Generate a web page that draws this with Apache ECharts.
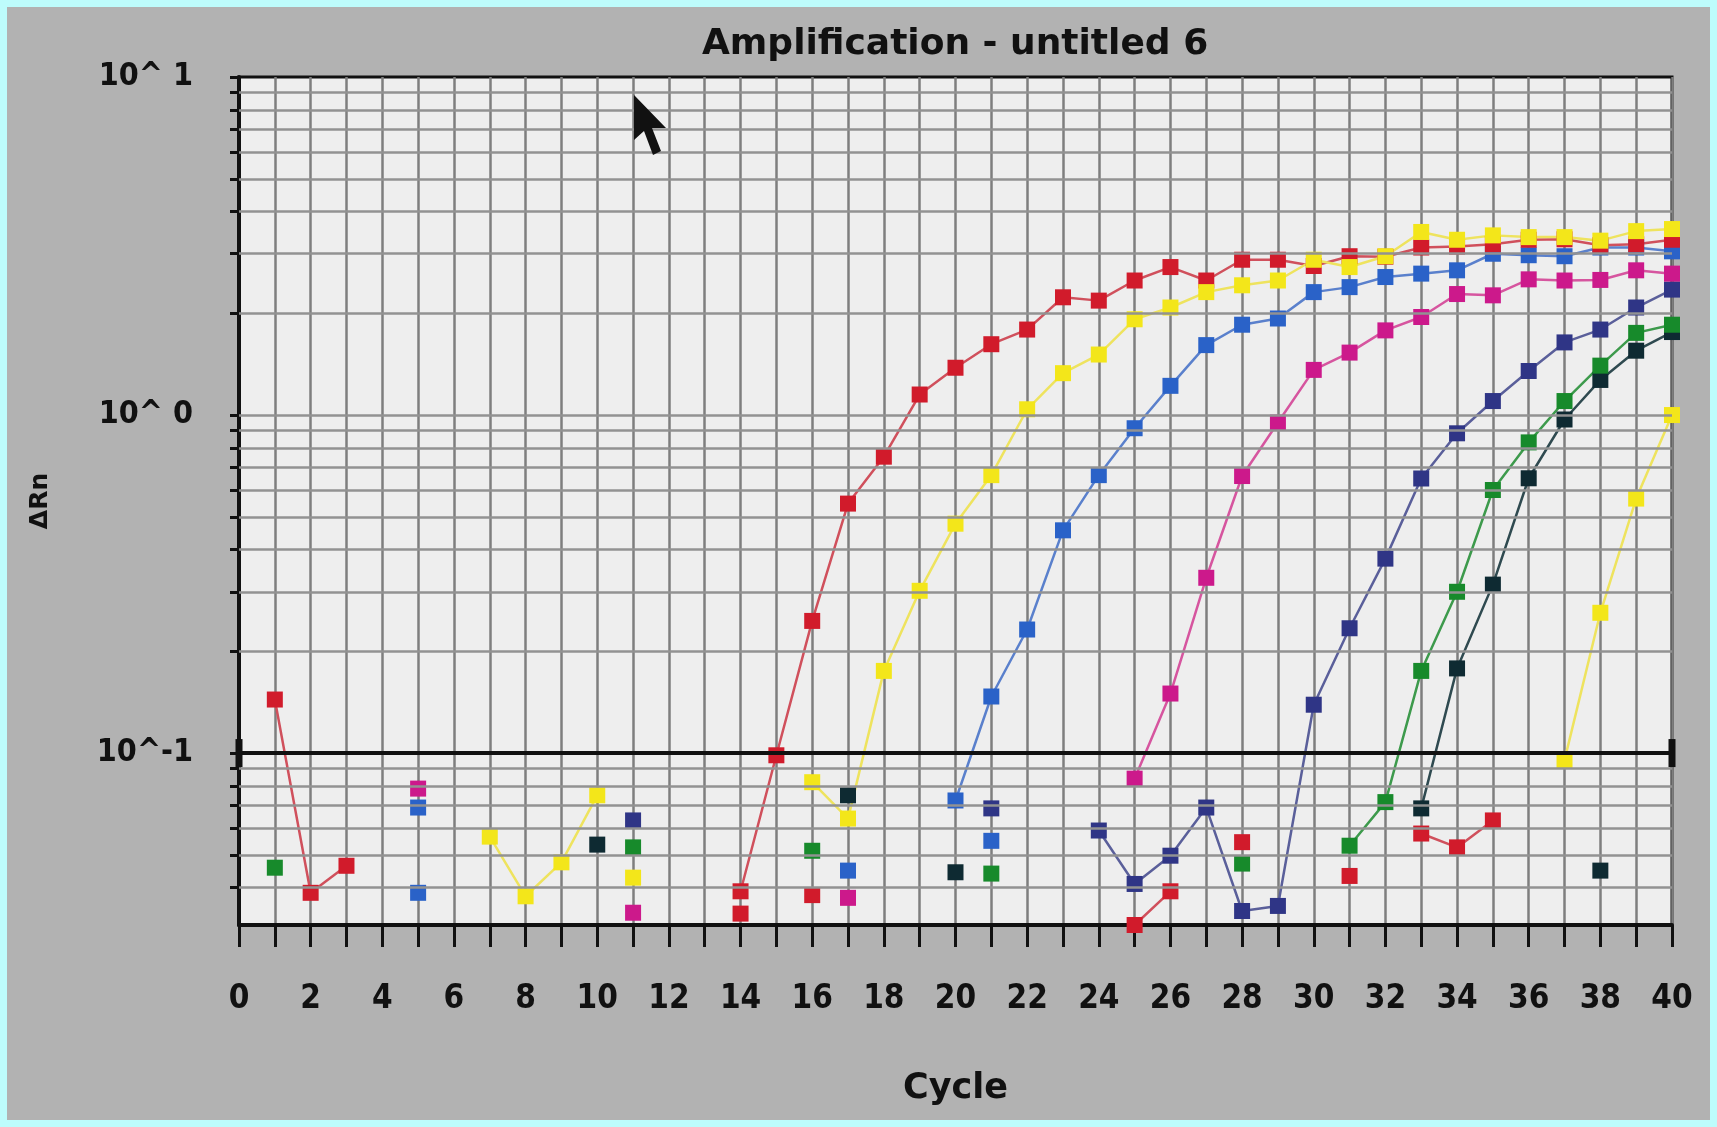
<!DOCTYPE html>
<html><head><meta charset="utf-8">
<script src="https://cdn.jsdelivr.net/npm/echarts@6/dist/echarts.min.js"></script>
<style>html,body{margin:0;padding:0;background:#b2b2b2;}#c{width:1717px;height:1127px;}</style>
</head><body><div id="c"></div>
<script>
const _ = null;
const cycles = [0,1,2,3,4,5,6,7,8,9,10,11,12,13,14,15,16,17,18,19,20,21,22,23,24,25,26,27,28,29,30,31,32,33,34,35,36,37,38,39,40];
const xTickLabels = ['0','2','4','6','8','10','12','14','16','18','20','22','24','26','28','30','32','34','36','38','40'];
const yTickValues = [0.1, 1, 10];
const yTickLabels = ['10^-1', '10^ 0', '10^ 1'];
const gridValues = [0.04,0.05,0.06,0.07,0.08,0.09,0.2,0.3,0.4,0.5,0.6,0.7,0.8,0.9,1,2,3,4,5,6,7,8,9];
const thresholdValue = 0.1;

// main amplification curves (index = cycle)
const redMain = [_,0.144,0.0386,0.0464,_,_,_,_,_,_,_,_,_,_,0.039,0.0985,0.246,0.547,0.753,1.15,1.38,1.62,1.79,2.23,2.18,2.50,2.74,2.50,2.88,2.88,2.76,2.95,2.94,3.13,3.15,3.2,3.3,3.31,3.18,3.2,3.3];
const yellowMain = [_,_,_,_,_,_,_,0.0566,0.0377,0.0475,0.075,_,_,_,_,_,0.082,0.064,0.175,0.302,0.477,0.664,1.04,1.33,1.51,1.92,2.08,2.31,2.42,2.50,2.88,2.74,2.95,3.48,3.3,3.40,3.36,3.36,3.28,3.5,3.55];
const blueMain = [_,_,_,_,_,_,_,_,_,_,_,_,_,_,_,_,_,_,_,_,0.0724,0.147,0.232,0.456,0.664,0.914,1.22,1.61,1.85,1.93,2.31,2.39,2.56,2.62,2.68,3.0,2.97,2.95,3.13,3.13,3.05];
const magentaMain = [_,_,_,_,_,_,_,_,_,_,_,_,_,_,_,_,_,_,_,_,_,_,_,_,_,0.084,0.15,0.33,0.66,0.95,1.36,1.53,1.78,1.95,2.28,2.26,2.52,2.50,2.51,2.68,2.62];
const navyMain = [_,_,_,_,_,_,_,_,_,_,_,_,_,_,_,_,_,_,_,_,_,_,_,_,0.059,0.041,0.0497,0.069,0.0341,0.0353,0.139,0.234,0.376,0.649,0.883,1.10,1.35,1.64,1.79,2.08,2.35];
const greenMain = [_,_,_,_,_,_,_,_,_,_,_,_,_,_,_,_,_,_,_,_,_,_,_,_,_,_,_,_,_,_,_,0.0532,0.0716,0.175,0.30,0.60,0.83,1.10,1.40,1.75,1.85];
const darkMain = [_,_,_,_,_,_,_,_,_,_,_,_,_,_,_,_,_,_,_,_,_,_,_,_,_,_,_,_,_,_,_,_,_,0.0686,0.178,0.315,0.65,0.97,1.27,1.55,1.76];
const yellowLate = [_,_,_,_,_,_,_,_,_,_,_,_,_,_,_,_,_,_,_,_,_,_,_,_,_,_,_,_,_,_,_,_,_,_,_,_,_,0.0953,0.26,0.566,1.0];

// below-threshold readings of other wells: [cycle, value]
const redNoise = [[14,0.0335],[16,0.038],[25,0.031],[26,0.039],[28,0.0545],[31,0.0433],[33,0.0578],[34,0.0526],[35,0.0632]];
const yellowNoise = [[11,0.0428]];
const blueNoiseA = [[5,0.069],[17,0.0449],[21,0.055]];
const blueNoiseB = [[5,0.0386]];
const magentaNoise = [[5,0.0785],[11,0.0337],[17,0.0373]];
const navyNoise = [[11,0.0632],[21,0.0686]];
const greenNoise = [[1,0.0458],[11,0.0526],[16,0.0514],[21,0.044],[28,0.0471]];
const darkNoise = [[10,0.0536],[17,0.075],[20,0.0444],[38,0.0449]];

const C = {red:'#d11b2b', yellow:'#f3e61a', blue:'#2a62c8', magenta:'#cc198b', navy:'#2f3586', green:'#178a2b', dark:'#0e2a32'};
const LC = {red:'#d0505c', yellow:'#eee35e', blue:'#5a80cc', magenta:'#d6559f', navy:'#5a5f9a', green:'#3d9a4c', dark:'#2f4a50'};

function fromArray(arr){ return cycles.map((c,i)=>[c, arr[i]==null ? '-' : arr[i]]); }
function fromPairs(pairs){
  const out=[];
  pairs.forEach((p,i)=>{ if(i>0 && p[0]-pairs[i-1][0]>1) out.push([pairs[i-1][0]+0.5,'-']); out.push(p); });
  return out;
}
function mk(name, data, col){
  return {name, type:'line', data, z:3, symbol:'rect', symbolSize:16, showSymbol:true, connectNulls:false, clip:true,
    itemStyle:{color:C[col]}, lineStyle:{color:LC[col], width:2.5}, emphasis:{disabled:true}, silent:true};
}
const NUMFONT = '"Liberation Sans Narrow","DejaVu Sans Condensed","Liberation Sans",sans-serif';

const chart = echarts.init(document.getElementById('c'), null, {renderer:'canvas'});
chart.setOption({
  animation:false,
  backgroundColor:'#b2b2b2',
  title:{text:'Amplification - untitled 6', left:697, top:22,
    textStyle:{fontFamily:'"DejaVu Sans",sans-serif', fontWeight:'bold', fontSize:36, color:'#111'}},
  grid:{left:239, right:45, top:77, bottom:202, show:true, backgroundColor:'#eeeeee', borderColor:'#111', borderWidth:3},
  xAxis:{type:'value', min:0, max:40, interval:1, name:'Cycle', nameLocation:'middle', nameGap:146,
    nameTextStyle:{fontFamily:'"DejaVu Sans",sans-serif', fontWeight:'bold', fontSize:35, color:'#111'},
    axisLine:{show:true, onZero:false, lineStyle:{color:'#111', width:4}},
    axisTick:{show:true, inside:false, length:22, lineStyle:{color:'#111', width:3}},
    axisLabel:{margin:58, fontFamily:NUMFONT, fontWeight:'bold', fontSize:33, color:'#111',
      formatter:v=>{const i=xTickLabels.indexOf(String(v)); return i>=0?xTickLabels[i]:'';}},
    splitLine:{show:true, lineStyle:{color:'#7e7e7e', width:2.5}}},
  yAxis:{type:'log', logBase:10, min:0.031, max:10, name:'ΔRn', nameLocation:'middle', nameGap:186, nameRotate:90,
    nameTextStyle:{fontFamily:'"DejaVu Sans",sans-serif', fontWeight:'bold', fontSize:25, color:'#111'},
    axisLine:{show:true, lineStyle:{color:'#111', width:4}},
    axisTick:{show:true, inside:false, length:9, customValues:gridValues.concat([0.1,10]), lineStyle:{color:'#111', width:3}},
    axisLabel:{margin:46, customValues:yTickValues, fontFamily:NUMFONT, fontWeight:'bold', fontSize:32, color:'#111',
      formatter:v=>{for(let i=0;i<yTickValues.length;i++){ if(Math.abs(v-yTickValues[i])<1e-6*yTickValues[i]) return yTickLabels[i]; } return '';}},
    splitLine:{show:false}},
  graphic:[
    {type:'rect', shape:{x:0,y:0,width:1717,height:1127}, style:{fill:null, stroke:'#bdfcfc', lineWidth:14}, silent:true, z:100},
    {type:'polygon', shape:{points:[[634,95],[634,140],[644,131],[653,155],[661,151],[652,128],[666,128]]}, style:{fill:'#111'}, silent:true, z:100}
  ],
  series:[
    {type:'line', data:[], z:1, silent:true,
      markLine:{silent:true, symbol:'none', label:{show:false}, lineStyle:{color:'#929292', width:2.5, type:'solid'},
        emphasis:{disabled:true}, data:gridValues.map(v=>({yAxis:v}))}},
    {type:'line', data:[], z:2, silent:true,
      markLine:{silent:true, symbol:['rect','rect'], symbolSize:[28,7], label:{show:false},
        lineStyle:{color:'#111', width:4, type:'solid'}, itemStyle:{color:'#111'}, emphasis:{disabled:true},
        data:[{yAxis:thresholdValue}]}},
    mk('noise red', fromPairs(redNoise), 'red'),
    mk('noise yellow', fromPairs(yellowNoise), 'yellow'),
    mk('noise blue a', fromPairs(blueNoiseA), 'blue'),
    mk('noise blue b', fromPairs(blueNoiseB), 'blue'),
    mk('noise magenta', fromPairs(magentaNoise), 'magenta'),
    mk('noise navy', fromPairs(navyNoise), 'navy'),
    mk('noise green', fromPairs(greenNoise), 'green'),
    mk('noise dark', fromPairs(darkNoise), 'dark'),
    mk('late yellow', fromArray(yellowLate), 'yellow'),
    mk('dark', fromArray(darkMain), 'dark'),
    mk('green', fromArray(greenMain), 'green'),
    mk('navy', fromArray(navyMain), 'navy'),
    mk('magenta', fromArray(magentaMain), 'magenta'),
    mk('blue', fromArray(blueMain), 'blue'),
    mk('red', fromArray(redMain), 'red'),
    mk('yellow', fromArray(yellowMain), 'yellow')
  ]
});
</script></body></html>
